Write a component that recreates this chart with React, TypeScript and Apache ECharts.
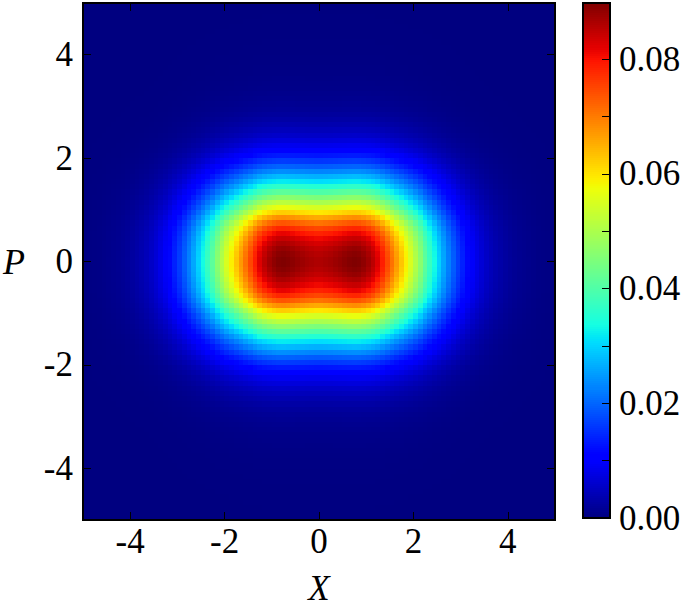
import React, { useEffect, useRef } from "react";
import * as echarts from "echarts";

// |X| (or |P|) cell centres at which the picture was read
const halfCentres = [
  0.05, 0.15, 0.25, 0.35, 0.45, 0.55, 0.65, 0.75, 0.85, 0.95,
  1.05, 1.15, 1.25, 1.35, 1.45, 1.55, 1.65, 1.75, 1.85, 1.95,
  2.05, 2.15, 2.25, 2.35, 2.45, 2.55, 2.65, 2.75, 2.85, 2.95,
  3.05, 3.15, 3.25, 3.35, 3.45, 3.55, 3.65, 3.75, 3.85, 3.95,
  4.05, 4.15, 4.25, 4.35, 4.45, 4.55, 4.65, 4.75, 4.85, 4.95,
];

// values read along P = 0 (as a function of |X|)
const rowAtP0 = [
  0.0862, 0.0866, 0.087, 0.0876, 0.0882, 0.0889, 0.0895, 0.0898, 0.0896, 0.0886,
  0.0872, 0.0852, 0.0825, 0.079, 0.075, 0.071, 0.067, 0.063, 0.059, 0.055,
  0.0508, 0.0464, 0.0415, 0.0375, 0.0335, 0.0297, 0.026, 0.0225, 0.0194, 0.0165,
  0.014, 0.0117, 0.0096, 0.0081, 0.0067, 0.0055, 0.0045, 0.0037, 0.0031, 0.0025,
  0.002, 0.0016, 0.0013, 0.0011, 0.0009, 0.0007, 0.0005, 0.0004, 0.0003, 0.0002,
];

// values read along X = 0 (as a function of |P|)
const colAtX0 = [
  0.0861, 0.0855, 0.0845, 0.0829, 0.0809, 0.0784, 0.075, 0.0707, 0.0655, 0.0597,
  0.0545, 0.0497, 0.0448, 0.0399, 0.0351, 0.0307, 0.0267, 0.0228, 0.0191, 0.0158,
  0.0129, 0.0105, 0.0084, 0.0069, 0.0055, 0.0045, 0.0036, 0.0028, 0.0022, 0.0017,
  0.0014, 0.0011, 0.0009, 0.0007, 0.0006, 0.0005, 0.0004, 0.0003, 0.00026, 0.00022,
  0.00018, 0.00015, 0.00012, 0.0001, 0.00008, 0.00006, 0.00005, 0.00004, 0.00003, 0.00002,
];

const valueMax = 0.0898;
const axisTicks = [-4, -2, 0, 2, 4];
const colorbarTicks = [0, 0.01, 0.02, 0.03, 0.04, 0.05, 0.06, 0.07, 0.08];
const colorbarLabels = [0, 0.02, 0.04, 0.06, 0.08];
const colorbarSteps = 256;

const FONT = "Liberation Serif";

function jet(t: number): string {
  const seg = (pts: number[][], v: number) => {
    for (let i = 1; i < pts.length; i++) {
      if (v <= pts[i][0]) {
        const [x0, y0] = pts[i - 1];
        const [x1, y1] = pts[i];
        return y0 + ((y1 - y0) * (v - x0)) / (x1 - x0);
      }
    }
    return pts[pts.length - 1][1];
  };
  const r = seg([[0, 0], [0.35, 0], [0.66, 1], [0.89, 1], [1, 0.5]], t);
  const g = seg([[0, 0], [0.125, 0], [0.375, 1], [0.64, 1], [0.91, 0], [1, 0]], t);
  const b = seg([[0, 0.5], [0.11, 1], [0.34, 1], [0.65, 0], [1, 0]], t);
  const h = (c: number) => Math.round(c * 255).toString(16).padStart(2, "0");
  return "#" + h(r) + h(g) + h(b);
}

export default function App() {
  const ref = useRef<HTMLDivElement>(null);

  useEffect(() => {
    document.body.style.margin = "0";
    if (!ref.current) return;
    const chart = echarts.init(ref.current, undefined, { renderer: "svg" });

    const centres = [...halfCentres].reverse().map((v) => -v).concat(halfCentres);
    const rowFull = [...rowAtP0].reverse().concat(rowAtP0);
    const colFull = [...colAtX0].reverse().concat(colAtX0);
    const cats = centres.map((v) => v.toFixed(2));

    const data: number[][] = [];
    for (let i = 0; i < rowFull.length; i++) {
      for (let j = 0; j < colFull.length; j++) {
        data.push([i, j, (rowFull[i] * colFull[j]) / colAtX0[0]]);
      }
    }

    const cbLevels: string[] = [];
    const cbData: number[][] = [];
    for (let k = 0; k < colorbarSteps; k++) {
      const v = (valueMax * (k + 0.5)) / colorbarSteps;
      cbLevels.push(String(k));
      cbData.push([0, k, v]);
    }

    const colors: string[] = [];
    for (let k = 0; k <= 128; k++) colors.push(jet(k / 128));

    const lineStyle = { color: "#000", width: 1.5 };
    const frameAxis = (extra: any) => ({
      type: "value",
      z: 10,
      axisLine: { show: true, onZero: false, lineStyle },
      splitLine: { show: false },
      axisLabel: { show: false },
      axisTick: { show: false },
      ...extra,
    });
    const tickStyle = {
      show: true,
      inside: true,
      length: 8,
      customValues: axisTicks,
      lineStyle: { color: "#000", width: 1 },
    };
    const labelStyle = {
      show: true,
      customValues: axisTicks,
      fontFamily: FONT,
      fontSize: 35,
      color: "#000",
      formatter: (v: number) => String(v),
    };

    chart.setOption({
      animation: false,
      grid: [
        { left: 83, top: 3, width: 472, height: 517, outerBoundsMode: "none", containLabel: false },
        { left: 583, top: 3, width: 27, height: 515, outerBoundsMode: "none", containLabel: false },
      ],
      visualMap: {
        type: "continuous",
        show: false,
        min: 0,
        max: valueMax,
        seriesIndex: [0, 1],
        inRange: { color: colors },
      },
      xAxis: [
        { type: "category", gridIndex: 0, data: cats, show: false, position: "bottom" },
        frameAxis({
          gridIndex: 0,
          min: -5,
          max: 5,
          position: "bottom",
          axisTick: tickStyle,
          axisLabel: { ...labelStyle, margin: 4 },
          name: "X",
          nameLocation: "middle",
          nameGap: 51,
          nameTextStyle: { fontFamily: FONT, fontStyle: "italic", fontSize: 35, color: "#000" },
        }),
        frameAxis({ gridIndex: 0, min: -5, max: 5, position: "top", axisTick: tickStyle }),
        {
          type: "category",
          gridIndex: 1,
          data: ["cb"],
          position: "bottom",
          z: 10,
          axisLine: { show: true, onZero: false, lineStyle },
          axisTick: { show: false },
          axisLabel: { show: false },
        },
        frameAxis({ gridIndex: 1, min: 0, max: 1, position: "top" }),
      ],
      yAxis: [
        { type: "category", gridIndex: 0, data: cats, show: false, position: "left" },
        frameAxis({
          gridIndex: 0,
          min: -5,
          max: 5,
          position: "left",
          axisTick: tickStyle,
          axisLabel: { ...labelStyle, margin: 10 },
          name: "P",
          nameLocation: "middle",
          nameRotate: 0,
          nameGap: 58,
          nameTextStyle: { fontFamily: FONT, fontStyle: "italic", fontSize: 36, color: "#000" },
        }),
        frameAxis({ gridIndex: 0, min: -5, max: 5, position: "right", axisTick: tickStyle }),
        { type: "category", gridIndex: 1, data: cbLevels, show: false, position: "left" },
        frameAxis({
          gridIndex: 1,
          min: 0,
          max: valueMax,
          position: "right",
          axisTick: {
            show: true,
            inside: true,
            length: 8,
            customValues: colorbarTicks,
            lineStyle: { color: "#000", width: 1 },
          },
          axisLabel: {
            show: true,
            customValues: colorbarLabels,
            fontFamily: FONT,
            fontSize: 35,
            color: "#000",
            margin: 9,
            formatter: (v: number) => v.toFixed(2),
          },
        }),
        frameAxis({ gridIndex: 1, min: 0, max: valueMax, position: "left" }),
      ],
      series: [
        {
          type: "heatmap",
          xAxisIndex: 0,
          yAxisIndex: 0,
          data,
          progressive: 0,
          silent: true,
          emphasis: { disabled: true },
        },
        {
          type: "heatmap",
          xAxisIndex: 3,
          yAxisIndex: 3,
          data: cbData,
          progressive: 0,
          silent: true,
          emphasis: { disabled: true },
        },
      ],
    });

    return () => chart.dispose();
  }, []);

  return <div ref={ref} style={{ width: 685, height: 608, shapeRendering: "crispEdges" } as any} />;
}
